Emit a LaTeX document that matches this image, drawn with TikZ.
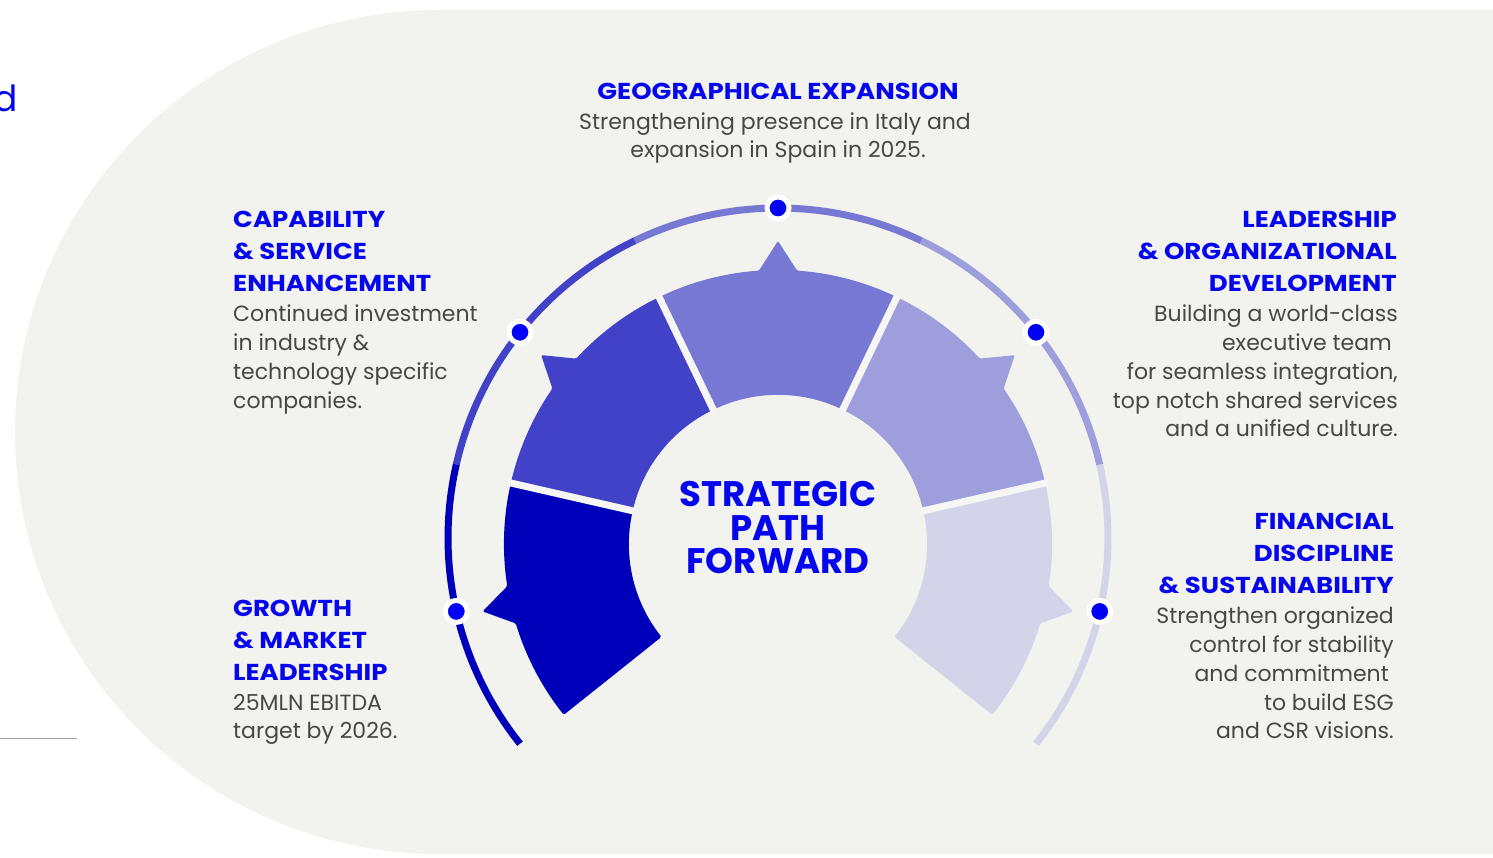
\documentclass[tikz,border=0pt]{standalone}
\usepackage{fontspec}
\setmainfont{Poppins}
\newfontfamily\widebold{Poppins}[FakeStretch=1.13]
\definecolor{bggray}{HTML}{F2F2EE}
\definecolor{sepc}{HTML}{F6F6F4}
\definecolor{cA}{HTML}{0000BB}
\definecolor{cB}{HTML}{4242C8}
\definecolor{cC}{HTML}{7777D4}
\definecolor{cD}{HTML}{9E9EDD}
\definecolor{cE}{HTML}{D3D3EA}
\definecolor{dotblue}{HTML}{0000F5}
\definecolor{ttlblue}{HTML}{0505EE}
\definecolor{bodygray}{HTML}{474747}
\begin{document}
\begin{tikzpicture}[x=1pt,y=1pt,
  ttl/.style={font=\widebold\fontsize{23}{23}\bfseries, text=ttlblue, inner sep=0pt},
  bdy/.style={font=\fontsize{22}{22}\selectfont, text=bodygray, inner sep=0pt},
  ctr/.style={font=\fontsize{35.5}{35.5}\bfseries, text=ttlblue, inner sep=0pt, anchor=base},
  sepline/.style={draw=sepc, line width=7pt},
  ringarc/.style={line width=7pt},
  dot/.style={circle, fill=dotblue, draw=white, line width=5pt, minimum size=22pt, inner sep=0pt},
  segshape/.style={rounded corners=1.5pt}]
\useasboundingbox (0,0) rectangle (1493,858);
\fill[white] (0,0) rectangle (1493,858);
\fill[bggray] (1493,848) -- (440,848) arc[start angle=90,end angle=270,x radius=425,y radius=422] -- (1493,4) -- cycle;
% partial word at the left edge and rule
\node[font=\fontsize{36}{36}\selectfont, text=ttlblue, inner sep=0pt, anchor=base east] (dpart) at (18,746) {d};
\coordinate (ruleA) at (0,119);
\coordinate (ruleB) at (77,119);
\draw[draw={rgb,255:red,160;green,160;blue,176}, line width=1pt] (ruleA) -- (ruleB);
% segments
\begin{scope}[shift={(778,314)}]
\fill[cE, segshape] (-38.571:149) -- (-38.571:274) arc[start angle=-38.571,end angle=-16.857,radius=274] -- (-12.857:303) -- (-8.857:274) arc[start angle=-8.857,end angle=12.857,radius=274] -- (12.857:149) arc[start angle=12.857,end angle=-38.571,radius=149] -- cycle;
\fill[cD, segshape] (12.857:149) -- (12.857:274) arc[start angle=12.857,end angle=34.571,radius=274] -- (38.571:303) -- (42.571:274) arc[start angle=42.571,end angle=64.286,radius=274] -- (64.286:149) arc[start angle=64.286,end angle=12.857,radius=149] -- cycle;
\fill[cC, segshape] (64.286:149) -- (64.286:274) arc[start angle=64.286,end angle=86,radius=274] -- (90:303) -- (94:274) arc[start angle=94,end angle=115.714,radius=274] -- (115.714:149) arc[start angle=115.714,end angle=64.286,radius=149] -- cycle;
\fill[cB, segshape] (115.714:149) -- (115.714:274) arc[start angle=115.714,end angle=137.429,radius=274] -- (141.429:303) -- (145.429:274) arc[start angle=145.429,end angle=167.143,radius=274] -- (167.143:149) arc[start angle=167.143,end angle=115.714,radius=149] -- cycle;
\fill[cA, segshape] (167.143:149) -- (167.143:274) arc[start angle=167.143,end angle=188.857,radius=274] -- (192.857:303) -- (196.857:274) arc[start angle=196.857,end angle=218.571,radius=274] -- (218.571:149) arc[start angle=218.571,end angle=167.143,radius=149] -- cycle;
\foreach \b in {12.857,64.286,115.714,167.143}
  \draw[sepline] (\b:147) -- (\b:276);
\end{scope}
% outer ring
\begin{scope}[shift={(778,320)}]
\draw[ringarc, cE] (-38.571:330) arc[start angle=-38.571,end angle=12.857,radius=330];
\draw[ringarc, cD] (12.857:330) arc[start angle=12.857,end angle=64.286,radius=330];
\draw[ringarc, cC] (64.286:330) arc[start angle=64.286,end angle=115.714,radius=330];
\draw[ringarc, cB] (115.714:330) arc[start angle=115.714,end angle=167.143,radius=330];
\draw[ringarc, cA] (167.143:330) arc[start angle=167.143,end angle=218.571,radius=330];
\node[dot] (dotE) at (-12.857:330) {};
\node[dot] (dotD) at (38.571:330) {};
\node[dot] (dotC) at (90:330) {};
\node[dot] (dotB) at (141.429:330) {};
\node[dot] (dotA) at (192.857:330) {};
\end{scope}
% centre text
\node[ctr] (c1) at (778,351) {STRATEGIC};
\node[ctr] (c2) at (778,317) {PATH};
\node[ctr] (c3) at (778,284) {FORWARD};
% geographical
\node[ttl, anchor=base] (g1) at (778,758) {GEOGRAPHICAL EXPANSION};
\node[bdy, anchor=base] (g2) at (775,728) {Strengthening presence in Italy and};
\node[bdy, anchor=base] (g3) at (778,700.3) {expansion in Spain in 2025.};
% capability
\node[ttl, anchor=base west] (k1) at (233,630.5) {CAPABILITY};
\node[ttl, anchor=base west] (k2) at (233,598.5) {\& SERVICE};
\node[ttl, anchor=base west] (k3) at (233,566.5) {ENHANCEMENT};
\node[bdy, anchor=base west] (k4) at (233,536) {Continued investment};
\node[bdy, anchor=base west] (k5) at (233,507.3) {in industry \&};
\node[bdy, anchor=base west] (k6) at (233,478.6) {technology specific};
\node[bdy, anchor=base west] (k7) at (233,449.9) {companies.};
% leadership
\node[ttl, anchor=base east] (l1) at (1397,630.5) {LEADERSHIP};
\node[ttl, anchor=base east] (l2) at (1397,598.5) {\& ORGANIZATIONAL};
\node[ttl, anchor=base east] (l3) at (1397,566.5) {DEVELOPMENT};
\node[bdy, anchor=base east] (l4) at (1398,536) {Building a world-class};
\node[bdy, anchor=base east] (l5) at (1392,507.3) {executive team};
\node[bdy, anchor=base east] (l6) at (1398,478.6) {for seamless integration,};
\node[bdy, anchor=base east] (l7) at (1398,449.9) {top notch shared services};
\node[bdy, anchor=base east] (l8) at (1398,421.2) {and a unified culture.};
% financial
\node[ttl, anchor=base east] (f1) at (1394,328.5) {FINANCIAL};
\node[ttl, anchor=base east] (f2) at (1394,296.5) {DISCIPLINE};
\node[ttl, anchor=base east] (f3) at (1394,264.5) {\& SUSTAINABILITY};
\node[bdy, anchor=base east] (f4) at (1394,234) {Strengthen organized};
\node[bdy, anchor=base east] (f5) at (1394,205.3) {control for stability};
\node[bdy, anchor=base east] (f6) at (1389,176.6) {and commitment};
\node[bdy, anchor=base east] (f7) at (1394,147.9) {to build ESG};
\node[bdy, anchor=base east] (f8) at (1394,119.2) {and CSR visions.};
% growth
\node[ttl, anchor=base west] (m1) at (233,241.5) {GROWTH};
\node[ttl, anchor=base west] (m2) at (233,209.5) {\& MARKET};
\node[ttl, anchor=base west] (m3) at (233,177.5) {LEADERSHIP};
\node[bdy, anchor=base west] (m4) at (233,147) {25MLN EBITDA};
\node[bdy, anchor=base west] (m5) at (233,119) {target by 2026.};
\end{tikzpicture}
\end{document}
